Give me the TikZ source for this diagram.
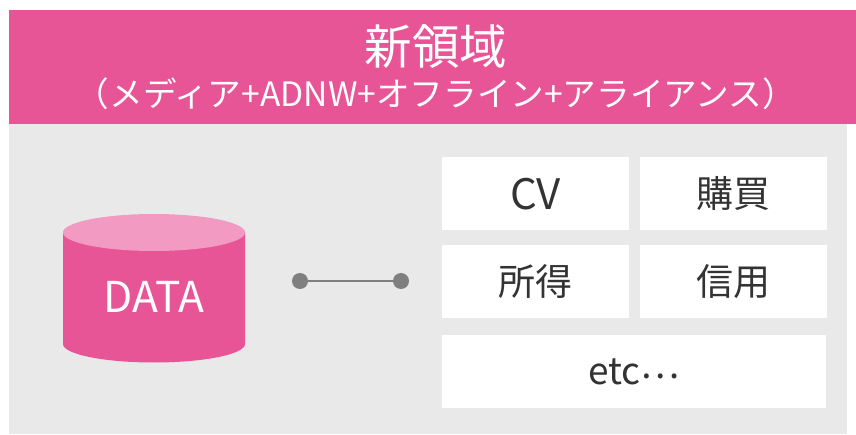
\documentclass[tikz,border=0pt]{standalone}
\usepackage{fontspec}
\setmainfont{Noto Sans CJK JP}
\definecolor{pink}{HTML}{E85597}
\definecolor{lpink}{HTML}{F29AC2}
\definecolor{bg}{HTML}{E9E9E9}
\definecolor{ink}{HTML}{333333}
\definecolor{gr}{HTML}{7F7F7F}
\tikzset{x=1pt,y=-1pt,
 cell/.style={fill=white,draw=none,anchor=north west,inner sep=0pt,text=ink,font=\fontsize{37}{40}\selectfont,align=center},
 dot/.style={circle,fill=gr,draw=none,minimum size=16pt,inner sep=0pt}}
\begin{document}
\begin{tikzpicture}
\useasboundingbox (0,0) rectangle (856,435);
\fill[white] (0,0) rectangle (856,435);
\fill[bg] (9,124) rectangle (847,434);
\fill[pink] (9,10) rectangle (856,124);
\node[text=white,font=\fontsize{47.5}{50}\selectfont] (title) at (436,47) {新領域};
\node[text=white,font=\fontsize{33.6}{36}\selectfont] (sub) at (436,94) {（メディア+ADNW+オフライン+アライアンス）};
\node[cell,minimum width=187pt,minimum height=73pt] (cv) at (442,157) {\fontsize{42}{40}\selectfont CV};
\node[cell,minimum width=187pt,minimum height=73pt] (buy) at (640,157) {購買};
\node[cell,minimum width=187pt,minimum height=73pt] (inc) at (442,245) {所得};
\node[cell,minimum width=187pt,minimum height=73pt] (cred) at (640,245) {信用};
\node[cell,minimum width=384pt,minimum height=73pt] (etc) at (442,335) {\fontsize{37}{40}\selectfont etc\raisebox{6pt}{⋯}};
\fill[pink] (63,232) -- (63,344) arc[x radius=91,y radius=18.5,start angle=180,end angle=0] -- (245,232) -- cycle;
\fill[lpink] (154,232.5) ellipse[x radius=91,y radius=18.5];
\node[text=white,font=\fontsize{42.5}{46}\selectfont] (data) at (154,297) {DATA};
\node[dot] (a) at (300,281) {};
\node[dot] (b) at (401,281) {};
\draw[gr,line width=1.5pt] (a) -- (b);
\end{tikzpicture}
\end{document}
